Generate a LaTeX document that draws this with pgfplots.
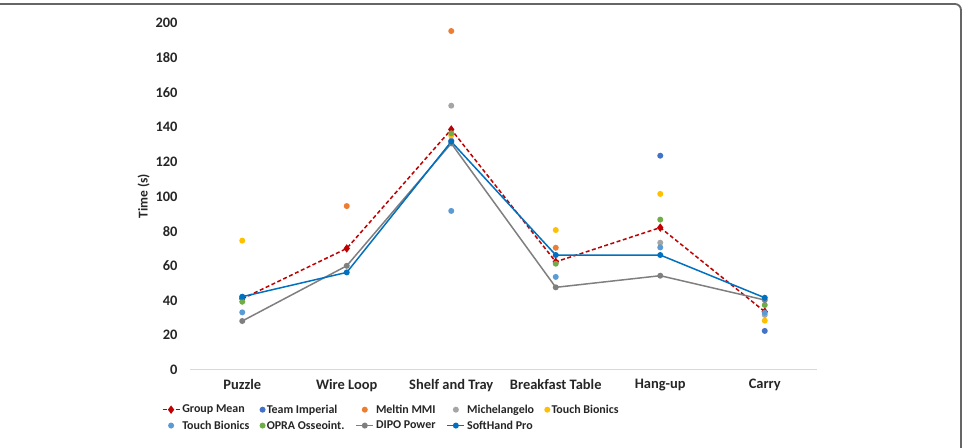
\documentclass[border=0pt]{standalone}
\usepackage{pgfplots}
\pgfplotsset{compat=1.18}
\usepackage{fontspec}
\setmainfont{Carlito}
\definecolor{gm}{HTML}{C00000}
\definecolor{ti}{HTML}{4472C4}
\definecolor{mm}{HTML}{ED7D31}
\definecolor{mi}{HTML}{A5A5A5}
\definecolor{tb}{HTML}{FFC000}
\definecolor{tbb}{HTML}{5B9BD5}
\definecolor{op}{HTML}{70AD47}
\definecolor{dp}{HTML}{7F7F7F}
\definecolor{sh}{HTML}{0070C0}
\begin{document}
\begin{tikzpicture}[x=1bp,y=1bp]
\useasboundingbox (0,0) rectangle (964,448);
\draw[color=black!60, line width=1.8bp, rounded corners=6bp] (0,444) -- (961,444) -- (961,-2);
\begin{axis}[
  at={(190bp,78bp)}, anchor=south west,
  scale only axis, width=627bp, height=347.3bp,
  xmin=-0.5, xmax=5.5, ymin=0, ymax=200,
  xtick={0,1,2,3,4,5},
  xticklabels={Puzzle, Wire Loop, Shelf and Tray, Breakfast Table, Hang-up, Carry},
  ytick={0,20,...,200},
  axis x line=bottom, axis y line=left,
  x axis line style={draw=black!15, line width=1bp, -},
  y axis line style={draw=none},
  major tick length=0pt,
  /pgf/number format/assume math mode=true,
  tick label style={font=\fontsize{14.5}{16}\selectfont\bfseries, text=black!85},
  yticklabel style={xshift=-9bp},
  xticklabel style={yshift=-6bp},
  ylabel={Time (s)},
  every axis y label/.style={at={(-0.074,0.5)}, rotate=90, anchor=center,
    font=\fontsize{13.5}{15}\selectfont\bfseries, text=black!85},
  clip=false,
  legend columns=5,
  legend style={draw=none, at={(-0.05,-0.088)}, anchor=north west,
    font=\fontsize{12}{14}\selectfont\bfseries, text=black!85,
    /tikz/every even column/.append style={column sep=9bp},
    /tikz/every odd column/.append style={column sep=0bp},
    row sep=2bp},
  legend cell align=left,
  every axis plot/.append style={line width=1.5bp},
  mark size=2.2bp,
]
\addplot[color=gm, dashed, dash pattern=on 4bp off 2.5bp, mark=diamond*, mark size=3bp, mark options={solid, fill=gm}] coordinates {(0,41) (1,70) (2,138.5) (3,62.3) (4,82) (5,33.6)};
\addlegendentry{Group Mean}
\addplot[only marks, mark=*, color=ti] coordinates {(0,42) (2,132) (4,123.4) (5,22.5)};
\addlegendentry{Team Imperial}
\addplot[only marks, mark=*, color=mm] coordinates {(1,94.4) (2,195.2) (3,70.4)};
\addlegendentry{Meltin MMI}
\addplot[only marks, mark=*, color=mi] coordinates {(2,152.2) (4,73.3) (5,31.7)};
\addlegendentry{Michelangelo}
\addplot[only marks, mark=*, color=tb] coordinates {(0,74.5) (2,135) (3,80.6) (4,101.4) (5,28.4)};
\addlegendentry{Touch Bionics}
\addplot[only marks, mark=*, color=tbb] coordinates {(0,33.2) (2,91.6) (3,53.6) (4,70.6) (5,33)};
\addlegendentry{Touch Bionics}
\addplot[only marks, mark=*, color=op] coordinates {(0,39.3) (2,136.3) (3,61.2) (4,86.6) (5,37.4)};
\addlegendentry{OPRA Osseoint.}
\addplot[color=dp, mark=*, mark options={fill=dp}] coordinates {(0,28.2) (1,60) (2,130.5) (3,47.6) (4,54.3) (5,40.3)};
\addlegendentry{DIPO Power}
\addplot[color=sh, mark=*, mark options={fill=sh}] coordinates {(0,42.2) (1,56.2) (2,131.5) (3,66.2) (4,66.2) (5,41.6)};
\addlegendentry{SoftHand Pro}
\end{axis}
\end{tikzpicture}
\end{document}
